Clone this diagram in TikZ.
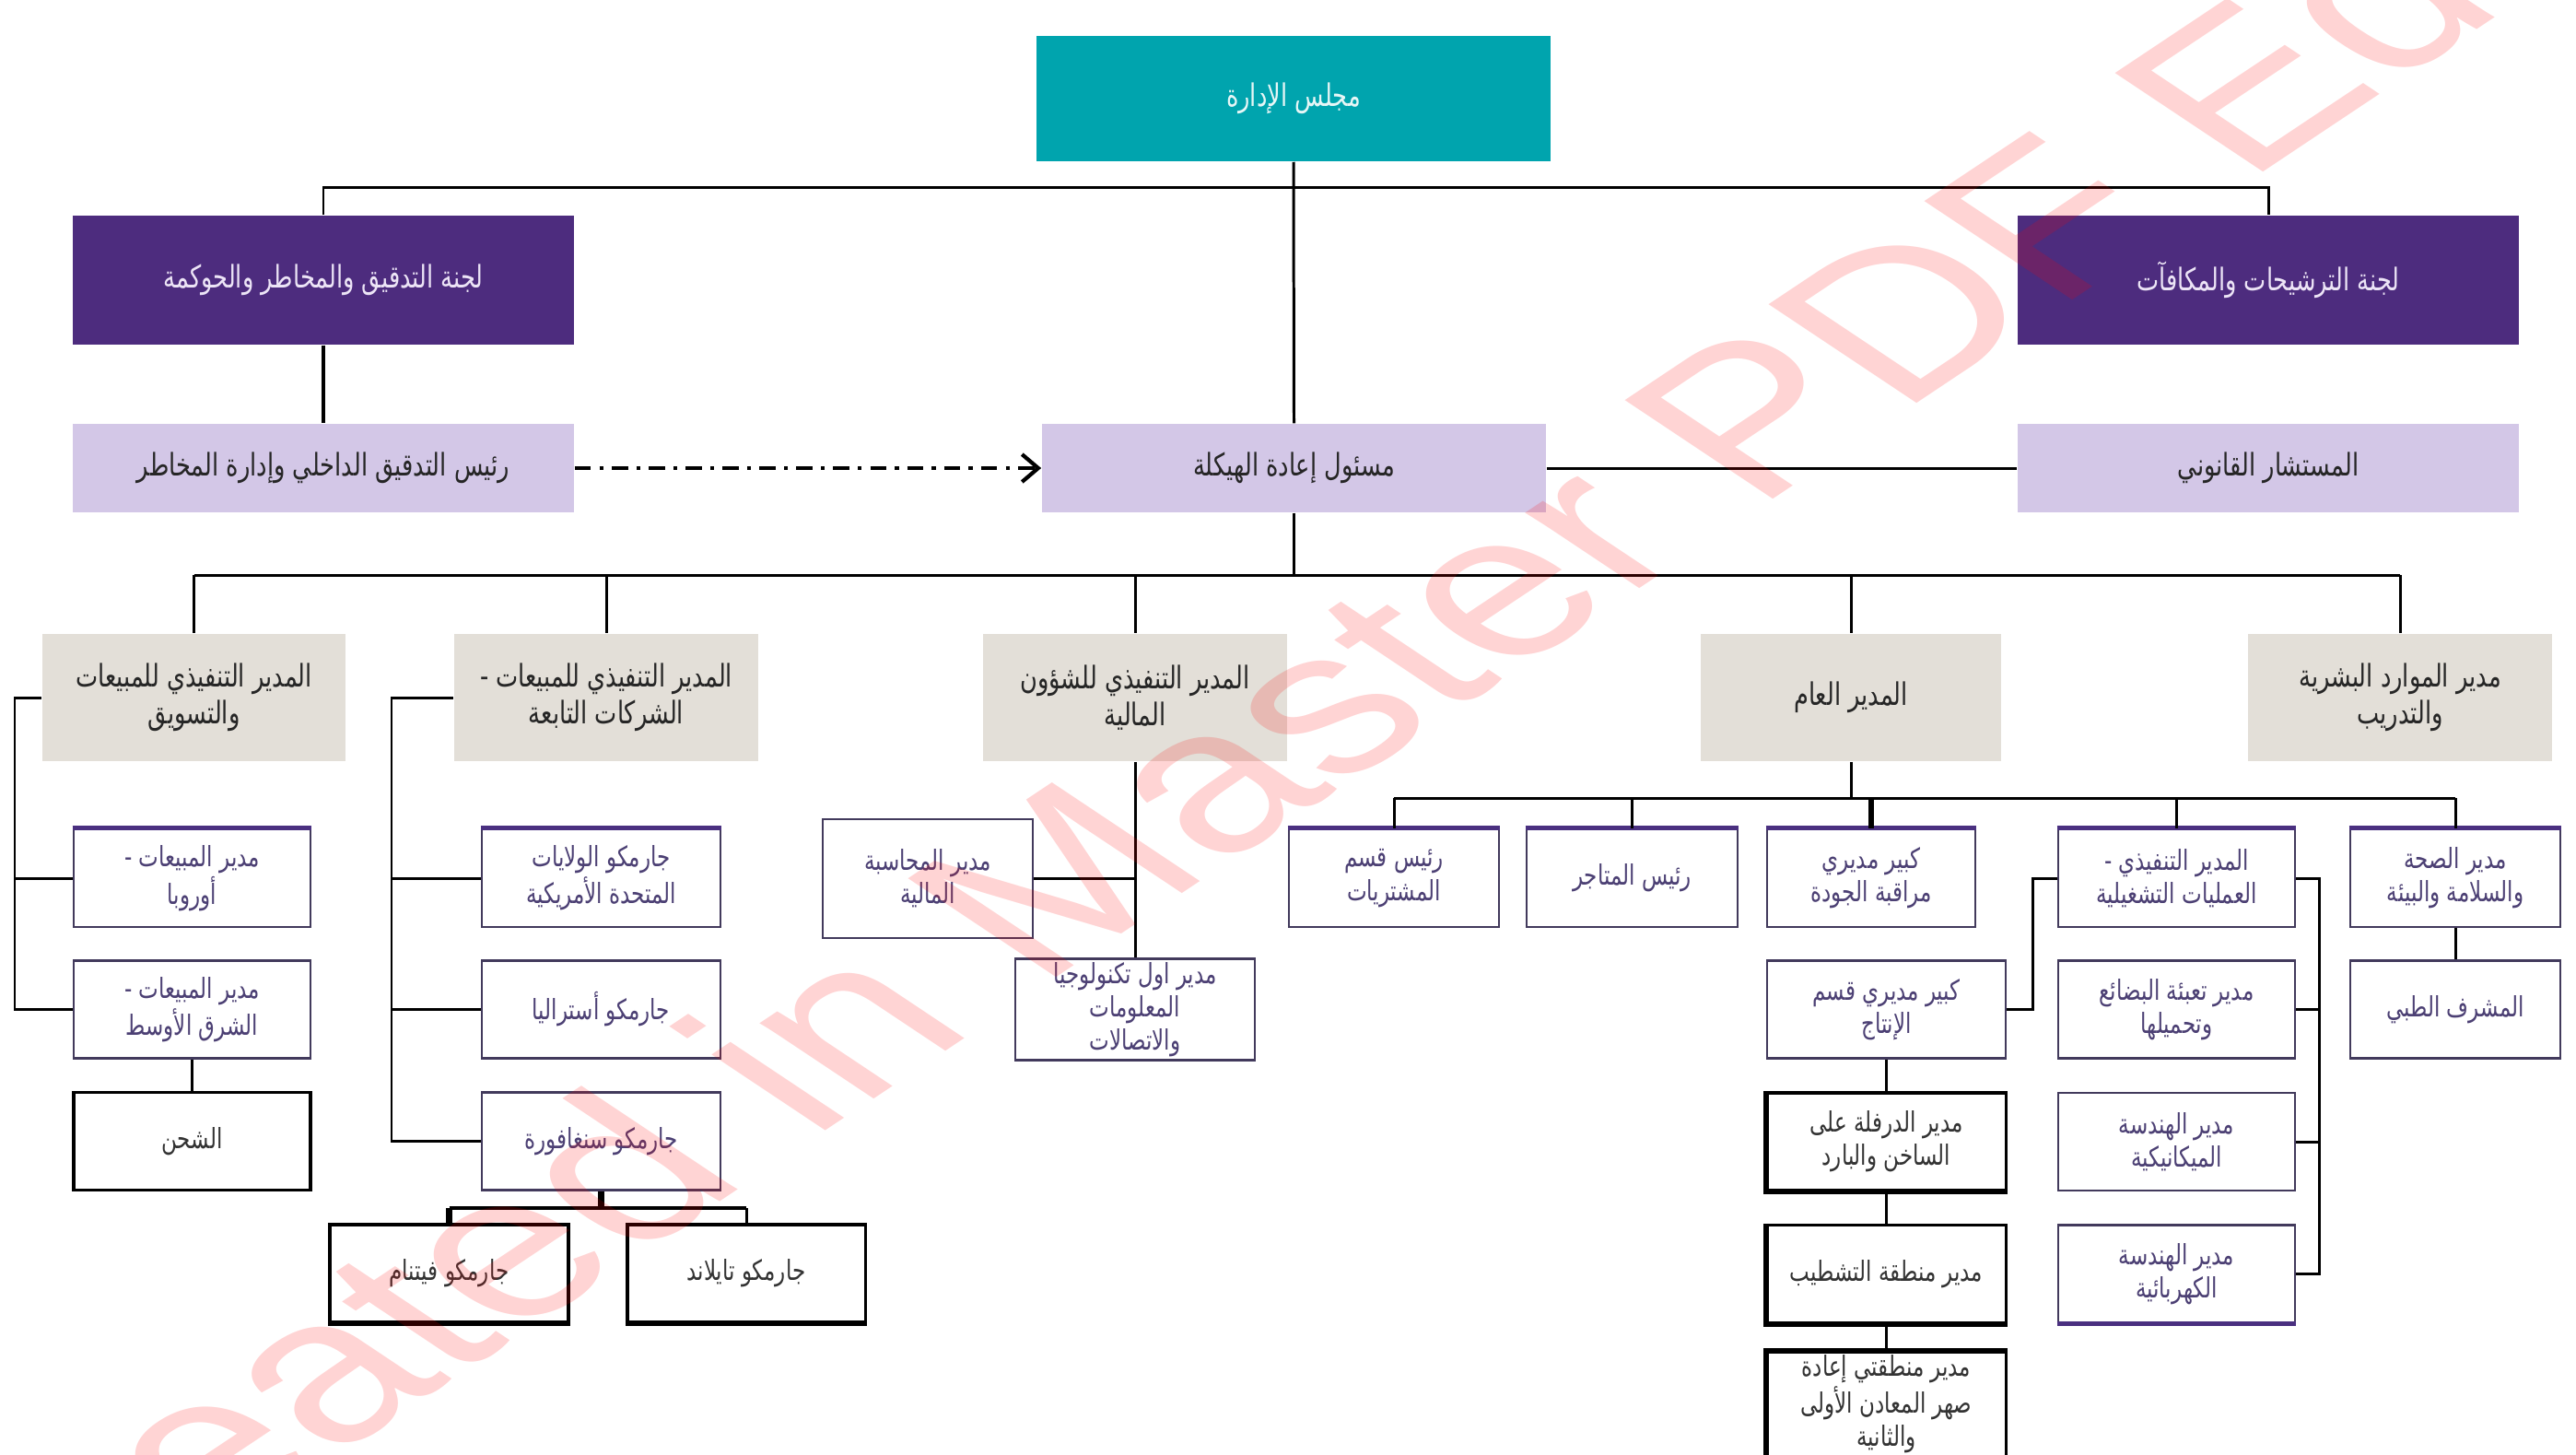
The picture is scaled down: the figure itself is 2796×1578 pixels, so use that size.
\documentclass[tikz,border=0pt]{standalone}
\usepackage{fontspec}
\usetikzlibrary{arrows.meta}
\TeXXeTstate=1
\setmainfont{Liberation Sans}
\newfontfamily\arabicfont[Script=Arabic, FakeStretch=0.76]{DejaVu Sans}
\newcommand\AR[1]{\beginR#1\endR}
\definecolor{cteal}{RGB}{0,164,174}
\definecolor{cpurp}{RGB}{77,44,126}
\definecolor{clav}{RGB}{211,199,231}
\definecolor{cbeige}{RGB}{227,223,216}
\definecolor{cbord}{RGB}{66,58,92}
\definecolor{ctxt}{RGB}{76,64,116}
\definecolor{ctop}{RGB}{74,48,128}
\begin{document}
\begin{tikzpicture}[x=0.01cm,y=-0.01cm,
  conn/.style={line width=0.85pt, draw=black},
  thickconn/.style={line width=1.8pt, draw=black},
  base/.style={inner sep=1pt, align=center, font=\arabicfont\fontsize{9.6}{11.5}\selectfont},
  small/.style={font=\arabicfont\fontsize{8.6}{10.3}\selectfont},
  boardbox/.style={base, fill=cteal, text={rgb,255:red,230;green,246;blue,246}, minimum width=5.58cm, minimum height=1.36cm},
  purpbox/.style={base, fill=cpurp, text={rgb,255:red,236;green,228;blue,246}, minimum width=5.43cm, minimum height=1.40cm},
  lavbox/.style={base, fill=clav, text=black!85, minimum width=5.44cm, minimum height=0.96cm},
  beigebox/.style={base, fill=cbeige, text=black!85, minimum width=3.29cm, minimum height=1.38cm},
  wbox/.style={base, small, fill=white, draw=cbord, line width=0.7pt, text=ctxt, minimum width=2.57cm, minimum height=1.06cm},
  bbox/.style={base, small, fill=white, draw=black, line width=0.9pt, text=black!80, minimum width=2.57cm, minimum height=1.06cm},
  topbar/.style={draw=ctop, line width=1.5pt},
  heavy/.style={draw=black, line width=1.6pt}
]
\fill[white] (0,0) rectangle (2796,1578);
\useasboundingbox (0,0) rectangle (2796,1578);

% ---- top levels
\node[boardbox] (board) at (1404,107) {\AR{مجلس الإدارة}};
\node[purpbox] (audc) at (351,304) {\AR{لجنة التدقيق والمخاطر والحوكمة}};
\node[purpbox] (nomc) at (2462,304) {\AR{لجنة الترشيحات والمكافآت}};
\node[lavbox] (ia) at (351,508) {\AR{رئيس التدقيق الداخلي وإدارة المخاطر}};
\node[lavbox, minimum width=5.47cm] (rs) at (1404.5,508) {\AR{مسئول إعادة الهيكلة}};
\node[lavbox] (legal) at (2462,508) {\AR{المستشار القانوني}};

% ---- level 3
\node[beigebox] (sm) at (210.5,757) {\AR{المدير التنفيذي للمبيعات}\\\AR{والتسويق}};
\node[beigebox, minimum width=3.30cm] (subs) at (658,757) {\AR{المدير التنفيذي للمبيعات -}\\\AR{الشركات التابعة}};
\node[beigebox] (fin) at (1232,757) {\AR{المدير التنفيذي للشؤون}\\\AR{المالية}};
\node[beigebox, minimum width=3.26cm] (gm) at (2009,757) {\AR{المدير العام}};
\node[beigebox, minimum width=3.30cm] (hr) at (2605,757) {\AR{مدير الموارد البشرية}\\\AR{والتدريب}};

% ---- sales & marketing branch
\node[wbox] (eu) at (208.5,953) {\AR{مدير المبيعات -}\\\AR{أوروبا}};
\node[wbox] (me) at (208.5,1095.5) {\AR{مدير المبيعات -}\\\AR{الشرق الأوسط}};
\node[bbox] (ship) at (208.5,1238.5) {\AR{الشحن}};

% ---- subsidiaries branch
\node[wbox, minimum width=2.59cm] (usa) at (652.5,953) {\AR{جارمكو الولايات}\\\AR{المتحدة الأمريكية}};
\node[wbox, minimum width=2.59cm] (aus) at (652.5,1095.5) {\AR{جارمكو أستراليا}};
\node[wbox, minimum width=2.59cm] (sgp) at (652.5,1238.5) {\AR{جارمكو سنغافورة}};
\node[bbox, minimum width=2.59cm] (vn) at (487.5,1382) {\AR{جارمكو فيتنام}};
\node[bbox, minimum width=2.58cm] (th) at (810,1382) {\AR{جارمكو تايلاند}};

% ---- finance branch
\node[wbox, minimum width=2.28cm, minimum height=1.29cm] (acc) at (1007,953.5) {\AR{مدير المحاسبة}\\\AR{المالية}};
\node[wbox, minimum width=2.60cm, minimum height=1.05cm] (it) at (1232,1095.5) {\AR{مدير اول تكنولوجيا}\\\AR{المعلومات}\\\AR{والاتصالات}};

% ---- general manager branch
\node[wbox, minimum width=2.28cm] (proc) at (1513,953) {\AR{رئيس قسم}\\\AR{المشتريات}};
\node[wbox, minimum width=2.29cm] (stores) at (1771.5,953) {\AR{رئيس المتاجر}};
\node[wbox, minimum width=2.26cm] (qc) at (2031,953) {\AR{كبير مديري}\\\AR{مراقبة الجودة}};
\node[wbox] (ops) at (2362.5,953) {\AR{المدير التنفيذي -}\\\AR{العمليات التشغيلية}};
\node[wbox, minimum width=2.28cm] (hse) at (2665,953) {\AR{مدير الصحة}\\\AR{والسلامة والبيئة}};
\node[wbox, minimum width=2.59cm] (prod) at (2047.5,1095.5) {\AR{كبير مديري قسم}\\\AR{الإنتاج}};
\node[wbox] (pack) at (2362.5,1095.5) {\AR{مدير تعبئة البضائع}\\\AR{وتحميلها}};
\node[wbox, minimum width=2.28cm] (med) at (2665,1095.5) {\AR{المشرف الطبي}};
\node[bbox, minimum width=2.59cm] (roll) at (2047.5,1239) {\AR{مدير الدرفلة على}\\\AR{الساخن والبارد}};
\node[wbox] (mech) at (2362.5,1239) {\AR{مدير الهندسة}\\\AR{الميكانيكية}};
\node[bbox, minimum width=2.59cm] (fins) at (2047.5,1382.5) {\AR{مدير منطقة التشطيب}};
\node[wbox] (elec) at (2362.5,1382.5) {\AR{مدير الهندسة}\\\AR{الكهربائية}};
\node[bbox, minimum width=2.59cm] (remelt) at (2047.5,1524) {\AR{مدير منطقتي إعادة}\\\AR{صهر المعادن الأولى}\\\AR{والثانية}};

% ---- heavy / coloured box edges
\foreach \n in {eu,usa,proc,stores,qc,ops,hse}
  \draw[topbar] (\n.north west) -- (\n.north east);
\draw[topbar] (elec.south west) -- (elec.south east);
\draw[heavy] (vn.south west) -- (vn.south east);
\draw[heavy] (th.south west) -- (th.south east);
\draw[heavy] (roll.north west) -- (roll.south west) -- (roll.south east);
\draw[heavy] (fins.north west) -- (fins.south west) -- (fins.south east);
\draw[heavy] (remelt.south west) -- (remelt.north west) -- (remelt.north east);

% ---- connectors, top
\coordinate (topbarY) at (0,203);
\coordinate (l3Y) at (0,624);
\draw[conn] (board.south) -- (rs.north);
\draw[conn] (audc.north) -- (audc.north |- topbarY) -- (nomc.north |- topbarY) -- (nomc.north);
\draw[conn, line width=1.2pt] (audc.south) -- (ia.north);
\draw[conn] (rs.east) -- (legal.west);
\draw[line width=1.1pt, dash pattern=on 5pt off 2.6pt on 1.2pt off 2.6pt,
      -{Straight Barb[length=5pt,width=8.5pt,line width=1.2pt]}] (ia.east) -- (rs.west);
\draw[conn] (rs.south) -- (rs.south |- l3Y);
\draw[conn] (sm.north |- l3Y) -- (hr.north |- l3Y);
\foreach \n in {sm,subs,fin,gm,hr}
  \draw[conn] (\n.north |- l3Y) -- (\n.north);

% ---- sales & marketing
\coordinate (smR) at (16,0);
\draw[conn] (sm.west) -- (sm.west -| smR) |- (me.west);
\draw[conn] (eu.west) -- (eu.west -| smR);
\draw[conn] (me.south) -- (ship.north);

% ---- subsidiaries
\coordinate (subR) at (425,0);
\coordinate (sgY) at (0,1311);
\draw[conn] (subs.west) -- (subs.west -| subR) |- (sgp.west);
\draw[conn] (usa.west) -- (usa.west -| subR);
\draw[conn] (aus.west) -- (aus.west -| subR);
\draw[thickconn] (sgp.south) -- (sgp.south |- sgY);
\draw[conn, line width=1.2pt] (vn.north |- sgY) -- (th.north |- sgY);
\draw[thickconn] (vn.north |- sgY) -- (vn.north);
\draw[conn] (th.north |- sgY) -- (th.north);

% ---- finance
\draw[conn] (fin.south) -- (it.north);
\draw[conn] (acc.east) -- (acc.east -| it.north);

% ---- general manager
\coordinate (gmY) at (0,866);
\draw[conn] (gm.south) -- (gm.south |- gmY);
\draw[conn] (proc.north |- gmY) -- (hse.north |- gmY);
\foreach \n in {proc,stores,ops,hse}
  \draw[conn] (\n.north |- gmY) -- (\n.north);
\draw[thickconn] (qc.north |- gmY) -- (qc.north);
\draw[conn] (hse.south) -- (med.north);
\coordinate (opsL) at (2206,0);
\coordinate (opsR) at (2517,0);
\draw[conn] (ops.west) -- (ops.west -| opsL) |- (prod.east);
\draw[conn] (ops.east) -- (ops.east -| opsR) |- (elec.east);
\draw[conn] (pack.east) -- (pack.east -| opsR);
\draw[conn] (mech.east) -- (mech.east -| opsR);
\draw[conn] (prod.south) -- (roll.north);
\draw[conn] (roll.south) -- (fins.north);
\draw[conn] (fins.south) -- (remelt.north);

% ---- watermark
\begin{scope}
\clip (0,0) rectangle (2796,1578);
\begin{scope}[shift={(-15,1835)}, xscale=1.5, rotate=45]
\node[anchor=base west, inner sep=0, text=red, text opacity=0.17, transform shape,
      font=\fontsize{62.6}{62.6}\selectfont] (wm) at (0,0) {Created in Master PDF Editor};
\end{scope}
\end{scope}
\end{tikzpicture}
\end{document}
